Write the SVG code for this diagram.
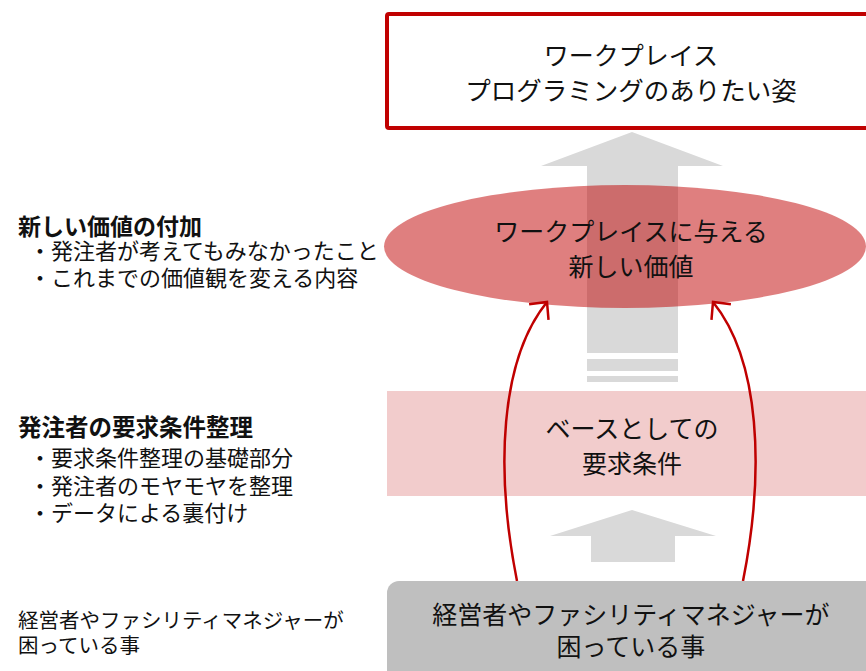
<svg xmlns="http://www.w3.org/2000/svg" width="866" height="671" viewBox="0 0 866 671">
<style>
text{font-family:"Noto Sans CJK JP","Noto Sans",sans-serif;fill:#111;}
.c{text-anchor:middle;font-size:25px;}
.h{font-size:23px;font-weight:bold;}
.s{font-size:22px;}
.b{font-size:20.5px;}
.ga{fill:#D9D9D9;}
.rc{fill:none;stroke:#C00000;stroke-width:2.5;marker-end:url(#ah);}
</style>
<defs>
<marker id="ah" markerUnits="userSpaceOnUse" viewBox="-16 -15 20 30" markerWidth="20" markerHeight="30" refX="0" refY="0" orient="auto">
<path d="M-13,-12.5 L0,0 L-13,12.5" fill="none" stroke="#C00000" stroke-width="2.5"/>
</marker>
</defs>
<g id="connectors">
<path class="ga" d="M632,132 L723,166 L678,166 L678,353 L587,353 L587,166 L541,166 Z"/>
<rect class="ga" x="587" y="359" width="91" height="12"/>
<rect class="ga" x="587" y="376" width="91" height="6"/>
<path class="ga" d="M632,510 L716,536 L675,536 L675,562 L591,562 L591,536 L550,536 Z"/>
<path class="rc" d="M517,581 C495,470 500,360 547,302"/>
<path class="rc" d="M743,581 C765,470 760,360 713,302"/>
</g>
<g id="goal">
<rect x="387" y="14" width="490" height="114" rx="2" fill="#fff" stroke="#C00000" stroke-width="4"/>
<text class="c" x="631" y="65">ワークプレイス</text>
<text class="c" x="631" y="100" style="font-size:25.5px">プログラミングのありたい姿</text>
</g>
<g id="new-value">
<ellipse cx="625" cy="246.5" rx="241" ry="61.5" fill="#C00000" fill-opacity="0.5"/>
<text class="c" x="631" y="241">ワークプレイスに与える</text>
<text class="c" x="631" y="276">新しい価値</text>
</g>
<g id="requirements">
<rect x="387" y="391" width="485" height="105" fill="#C00000" fill-opacity="0.2"/>
<text class="c" x="632" y="438">ベースとしての</text>
<text class="c" x="632" y="473">要求条件</text>
</g>
<g id="problems">
<rect x="387" y="581" width="495" height="110" rx="12" fill="#BFBFBF"/>
<text class="c" x="631" y="624">経営者やファシリティマネジャーが</text>
<text class="c" x="631" y="656">困っている事</text>
</g>
<g id="label-new-value">
<text class="h" x="18" y="235">新しい価値の付加</text>
<text class="s" x="29" y="259">・発注者が考えてもみなかったこと</text>
<text class="s" x="29" y="286">・これまでの価値観を変える内容</text>
</g>
<g id="label-requirements">
<text class="h" x="18" y="436" style="font-size:23.5px">発注者の要求条件整理</text>
<text class="s" x="29" y="466">・要求条件整理の基礎部分</text>
<text class="s" x="29" y="494">・発注者のモヤモヤを整理</text>
<text class="s" x="29" y="521">・データによる裏付け</text>
</g>
<g id="label-problems">
<text class="b" x="18" y="628">経営者やファシリティマネジャーが</text>
<text class="b" x="18" y="653">困っている事</text>
</g>
</svg>
